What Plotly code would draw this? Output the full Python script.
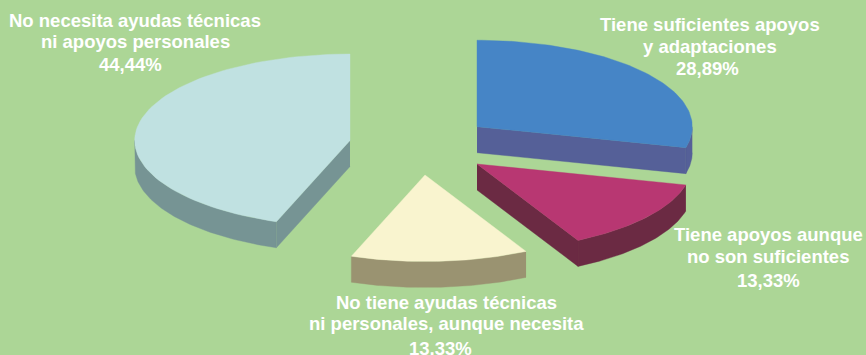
import numpy as np
import plotly.graph_objects as go

# slices, clockwise from 12 o'clock
names = ["Tiene suficientes apoyos", "Tiene apoyos aunque", "No tiene ayudas técnicas", "No necesita ayudas técnicas"]
values = [28.89, 13.33, 13.33, 44.44]
percent_labels = ["28,89%", "13,33%", "13,33%", "44,44%"]

top_colors = ["#4685C6", "#B83772", "#F9F4CF", "#C0E1E1"]
side_colors = ["#556098", "#6B2A43", "#9A9371", "#769494"]

# exploded position of each slice tip, in px
tips = [(477, 126.7), (477, 164), (425, 175), (350, 140.5)]
RX, RY, DEPTH = 215.3, 86.5, 26

labels = [
    (710, 24, "Tiene suficientes apoyos"),
    (710, 46, "y adaptaciones"),
    (707, 68, "28,89%"),
    (768, 234, "Tiene apoyos aunque"),
    (768, 256, "no son suficientes"),
    (768, 280, "13,33%"),
    (446, 302, "No tiene ayudas técnicas"),
    (446, 323, "ni personales, aunque necesita"),
    (440, 348, "13,33%"),
    (135, 20, "No necesita ayudas técnicas"),
    (135, 41, "ni apoyos personales"),
    (130, 64, "44,44%"),
]


def arc(tip, a0, a1):
    t = np.radians(np.linspace(a0, a1, 80))
    return tip[0] + RX * np.sin(t), tip[1] - RY * np.cos(t)


def add_poly(fig, xs, ys, color):
    fig.add_trace(go.Scatter(x=xs, y=ys, mode="lines", fill="toself", fillcolor=color,
                             line=dict(color=color, width=0.4), hoverinfo="skip"))


fig = go.Figure()
angles = np.cumsum([0] + values) / sum(values) * 360

for i in range(len(values)):
    tip, a0, a1 = tips[i], angles[i], angles[i + 1]
    side = side_colors[i]

    # outer wall, only the part that faces the viewer
    w0, w1 = max(a0, 90), min(a1, 270)
    if w0 < w1:
        x, y = arc(tip, w0, w1)
        add_poly(fig, np.r_[x, x[::-1]], np.r_[y, y[::-1] + DEPTH], side)

    # cut faces
    for ang, visible in ((a0, np.sin(np.radians(a0)) < 0), (a1, np.sin(np.radians(a1)) > 0)):
        if visible:
            x, y = arc(tip, ang, ang)
            xs = [tip[0], x[0], x[0], tip[0]]
            ys = [tip[1], y[0], y[0] + DEPTH, tip[1] + DEPTH]
            add_poly(fig, xs, ys, side)

    # top
    x, y = arc(tip, a0, a1)
    add_poly(fig, np.r_[tip[0], x, tip[0]], np.r_[tip[1], y, tip[1]], top_colors[i])

for xpos, ypos, text in labels:
    fig.add_annotation(x=xpos, y=ypos, text=text, showarrow=False, xanchor="center", yanchor="middle",
                       font=dict(family="Liberation Sans", size=18.5, color="white", weight="bold"))

fig.update_layout(width=866, height=355, margin=dict(l=0, r=0, t=0, b=0),
                  paper_bgcolor="#ACD696", plot_bgcolor="#ACD696", showlegend=False,
                  xaxis=dict(range=[0, 866], visible=False, fixedrange=True),
                  yaxis=dict(range=[355, 0], visible=False, fixedrange=True))
# the default page leaves a margin round the plot
fig.write_html("out.html", config={"displayModeBar": False},
               post_script="document.body.style.margin='0';document.body.style.overflow='hidden';")
